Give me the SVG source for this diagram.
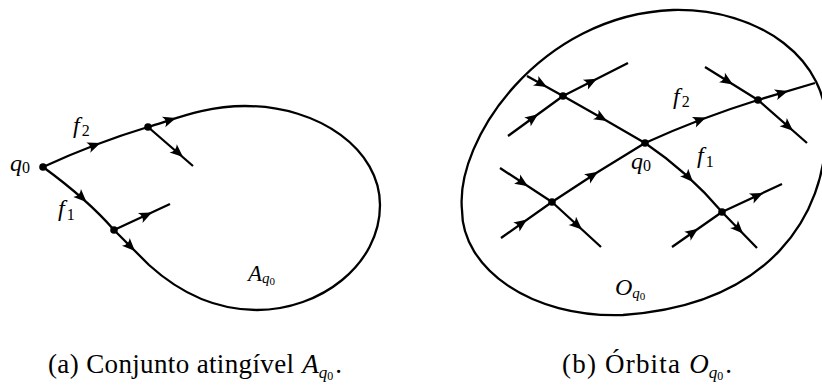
<svg xmlns="http://www.w3.org/2000/svg" xmlns:xlink="http://www.w3.org/1999/xlink" width="822" height="385" viewBox="0 0 822 385">
<style>
.ln{fill:none;stroke:#000;stroke-width:2.3;stroke-linejoin:round;stroke-linecap:butt}
.dot{fill:#000}
.m{font-family:"Liberation Serif","DejaVu Serif",serif;font-style:italic;font-size:24px;fill:#000}
.s{font-style:normal;font-size:16px}
.si{font-style:italic;font-size:15px}
.s0{font-style:normal;font-size:11px}
.cap{font-family:"Liberation Serif","DejaVu Serif",serif;font-size:27px;fill:#000}
.ci{font-style:italic}
.cs{font-style:italic;font-size:17px}
.cs0{font-style:normal;font-size:12px}
</style>
<defs>
<path id="ah" d="M0,0 L-13,-5.5 Q-8.5,0 -13,5.5 Z" fill="#000"/>
</defs>

<!-- (a) Reachable set -->
<g id="set-a">
<path class="ln" d="M148,127 C175,119 205,106 245,106 C320,106 380,150 380,205 C380,265 320,310 257,310 C215,310 180,293 149,265 L114,230"/>
<text x="248" y="281" class="m" style="font-size:23px">A<tspan class="si" dy="2">q</tspan><tspan class="s0" dy="2">0</tspan></text>
</g>
<g id="connectors-a">
<path class="ln" d="M43,167 Q95,143 148,127"/>
<path class="ln" d="M43,167 Q87.5,199.5 114,230"/>
<path class="ln" d="M148,127 L193,166"/>
<path class="ln" d="M114,230 L170,204"/>
<use xlink:href="#ah" transform="translate(100.5,143) rotate(-20.5)"/>
<use xlink:href="#ah" transform="translate(176,118) rotate(-18)"/>
<use xlink:href="#ah" transform="translate(183,157) rotate(41)"/>
<use xlink:href="#ah" transform="translate(86.5,202) rotate(44)"/>
<use xlink:href="#ah" transform="translate(152,212.4) rotate(-25)"/>
<use xlink:href="#ah" transform="translate(135,251) rotate(45)"/>
</g>
<g id="q0-a">
<circle class="dot" cx="43" cy="167" r="3.8"/>
<text x="10" y="171" class="m">q<tspan class="s" dy="2">0</tspan></text>
</g>
<g id="p1-a"><circle class="dot" cx="148" cy="127" r="3.8"/></g>
<g id="p2-a"><circle class="dot" cx="114" cy="230" r="3.8"/></g>
<g id="label-f2-a"><text x="73" y="133" class="m">f<tspan class="s" dx="2" dy="3">2</tspan></text></g>
<g id="label-f1-a"><text x="58" y="216" class="m">f<tspan class="s" dx="2" dy="4">1</tspan></text></g>

<!-- (b) Orbit -->
<g id="set-b">
<path class="ln" d="M673,10 C760,8 830,60 826,130 C826,215 770,305 623,315 C530,318 462,268 462,210 C455,140 540,15 673,10 Z"/>
<text x="615" y="295" class="m" style="font-size:24px">O<tspan class="si" dy="3">q</tspan><tspan class="s0" dy="2">0</tspan></text>
</g>
<g id="connectors-b">
<path class="ln" d="M527,76 L563,96 Q604,119 645,143 Q688,172 722,212 L757,248"/>
<path class="ln" d="M501,238 L552,202 Q598,171 645,143 Q700,118 758,100 L815,83"/>
<path class="ln" d="M508,136 L563,96 L628,63"/>
<path class="ln" d="M705,67 L758,100 L807,143"/>
<path class="ln" d="M500,168 L552,202 L601,247"/>
<path class="ln" d="M672,247 L722,212 L782,184"/>
<use xlink:href="#ah" transform="translate(547,87) rotate(29)"/>
<use xlink:href="#ah" transform="translate(607,121) rotate(30)"/>
<use xlink:href="#ah" transform="translate(693,182) rotate(47)"/>
<use xlink:href="#ah" transform="translate(743,233.6) rotate(46)"/>
<use xlink:href="#ah" transform="translate(527,219.6) rotate(-35)"/>
<use xlink:href="#ah" transform="translate(598,171.8) rotate(-33)"/>
<use xlink:href="#ah" transform="translate(706,117.6) rotate(-21)"/>
<use xlink:href="#ah" transform="translate(788,91) rotate(-17)"/>
<use xlink:href="#ah" transform="translate(538,114.2) rotate(-36)"/>
<use xlink:href="#ah" transform="translate(597,78.7) rotate(-27)"/>
<use xlink:href="#ah" transform="translate(733,84.4) rotate(32)"/>
<use xlink:href="#ah" transform="translate(793,130.7) rotate(41)"/>
<use xlink:href="#ah" transform="translate(528,186.3) rotate(33)"/>
<use xlink:href="#ah" transform="translate(582,229.6) rotate(42)"/>
<use xlink:href="#ah" transform="translate(698,228.8) rotate(-35)"/>
<use xlink:href="#ah" transform="translate(763,192.9) rotate(-25)"/>
</g>
<g id="q0-b">
<circle class="dot" cx="645" cy="143" r="3.8"/>
<text x="631" y="169" class="m">q<tspan class="s" dy="2">0</tspan></text>
</g>
<g id="p-ul"><circle class="dot" cx="563" cy="96" r="3.8"/></g>
<g id="p-ur"><circle class="dot" cx="758" cy="100" r="3.8"/></g>
<g id="p-ll"><circle class="dot" cx="552" cy="202" r="3.8"/></g>
<g id="p-lr"><circle class="dot" cx="722" cy="212" r="3.8"/></g>
<g id="label-f2-b"><text x="673" y="104" class="m">f<tspan class="s" dx="2" dy="3">2</tspan></text></g>
<g id="label-f1-b"><text x="697" y="163" class="m">f<tspan class="s" dx="2" dy="4">1</tspan></text></g>

<!-- captions -->
<g id="caption-a">
<text x="48" y="373" class="cap"><tspan textLength="246" lengthAdjust="spacing">(a) Conjunto atingível</tspan><tspan class="ci" dx="8">A</tspan><tspan class="cs" dy="5">q</tspan><tspan class="cs0" dy="2">0</tspan><tspan dy="-7" dx="2">.</tspan></text>
</g>
<g id="caption-b">
<text x="562" y="373" class="cap"><tspan textLength="118" lengthAdjust="spacing">(b) Órbita</tspan><tspan class="ci" dx="8">O</tspan><tspan class="cs" dy="5">q</tspan><tspan class="cs0" dy="2">0</tspan><tspan dy="-7" dx="2">.</tspan></text>
</g>
</svg>
